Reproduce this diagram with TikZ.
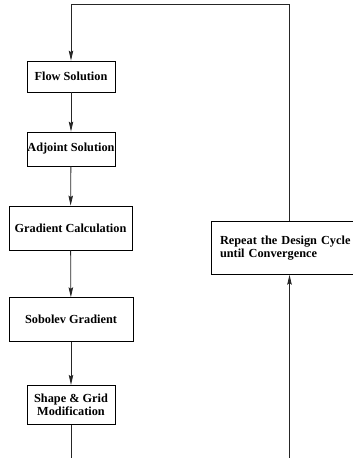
\documentclass[tikz,border=0pt]{standalone}
\usepackage{fontspec}
\setmainfont{Liberation Serif}
\usetikzlibrary{arrows.meta}
\begin{document}
\begin{tikzpicture}[x=1pt,y=-1pt,
  box/.style={draw=black,line width=0.8pt,inner sep=0pt,align=center,
    font=\bfseries\fontsize{12.3}{13.2}\selectfont},
  conn/.style={draw=black!85,line width=0.8pt},
  arr/.style={conn,-{Stealth[length=10pt,width=4.5pt,inset=1.5pt]}}]
\useasboundingbox (0,0) rectangle (353,458);
\node[box,minimum width=88pt,minimum height=31pt] (flow) at (71,76.5) {Flow Solution};
\node[box,minimum width=88pt,minimum height=34pt] (adj) at (71,149) {Adjoint Solution};
\node[box,minimum width=123pt,minimum height=44pt] (grad) at (70.5,228) {Gradient Calculation};
\node[box,minimum width=124pt,minimum height=44pt] (sob) at (71,319.7) {Sobolev Gradient};
\node[box,minimum width=88pt,minimum height=39pt] (shape) at (71,404.8) {Shape \& Grid\\Modification};
\node[box,minimum width=166pt,minimum height=53pt,align=left,text width=148pt] (rep) at (294,247.8)
  {Repeat the Design Cycle\\until Convergence};
\coordinate (topL) at (71,4);
\coordinate (topR) at (289.5,4);
\coordinate (botL) at (71,458);
\coordinate (botR) at (289.5,458);
\draw[arr] (flow) -- (adj);
\draw[arr] (adj) -- (grad);
\draw[arr] (grad) -- (sob);
\draw[arr] (sob) -- (shape);
\draw[conn] (shape) -- (botL);
\draw[arr] (botR) -- (rep.south -| botR);
\draw[arr] (rep.north -| topR) -- (topR) -- (topL) -- (flow);
\end{tikzpicture}
\end{document}
